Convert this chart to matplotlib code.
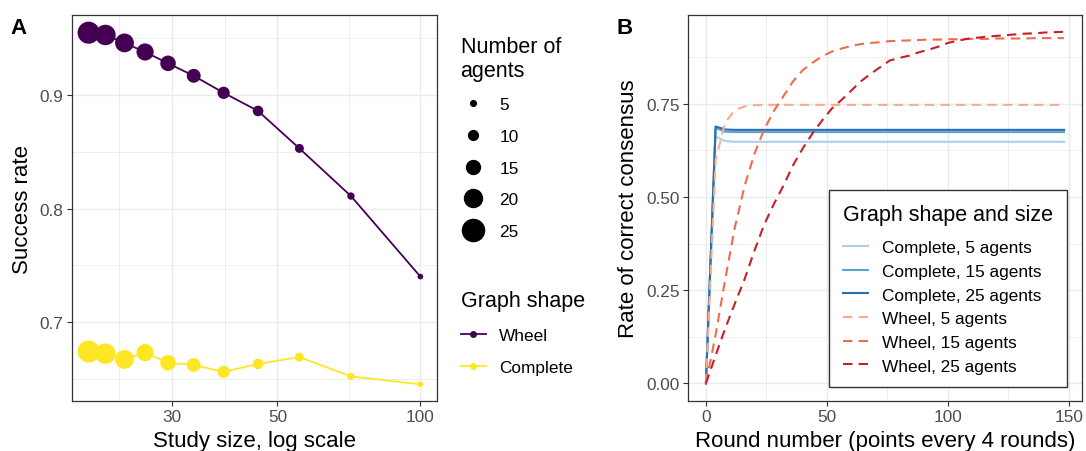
import matplotlib
matplotlib.use("Agg")
import matplotlib.pyplot as plt
from matplotlib.lines import Line2D
from matplotlib.ticker import NullFormatter

plt.rcParams['font.family'] = ['Liberation Sans', 'DejaVu Sans']

# panel A: success rate by study size
agents = [25, 23, 21, 19, 17, 15, 13, 11, 9, 7, 5]
study_size = [20, 21.7, 23.8, 26.3, 29.4, 33.3, 38.5, 45.5, 55.6, 71.4, 100]
wheel_success = [0.955, 0.953, 0.946, 0.938, 0.928, 0.917, 0.902, 0.886, 0.853, 0.811, 0.740]
complete_success = [0.674, 0.672, 0.667, 0.673, 0.664, 0.662, 0.656, 0.663, 0.669, 0.652, 0.645]
legend_agents = [5, 10, 15, 20, 25]

# panel B: rate of correct consensus over rounds
rounds = list(range(0, 149, 4))
complete_5 = [0, 0.662, 0.650] + [0.648] * 35
complete_15 = [0, 0.685, 0.675] + [0.674] * 35
complete_25 = [0, 0.689, 0.681] + [0.680] * 35
wheel_5 = [0, 0.60, 0.70, 0.733, 0.743, 0.746] + [0.747] * 32
wheel_15 = [0, 0.13, 0.28, 0.42, 0.53, 0.615, 0.68, 0.73, 0.77, 0.81, 0.84, 0.86, 0.877,
            0.89, 0.898, 0.905, 0.91, 0.913, 0.915, 0.918, 0.919, 0.92, 0.921, 0.922,
            0.922, 0.923, 0.923, 0.924, 0.924, 0.924, 0.925, 0.925, 0.925, 0.925, 0.926,
            0.926, 0.926, 0.926]
wheel_25 = [0, 0.075, 0.148, 0.215, 0.28, 0.355, 0.425, 0.48, 0.53, 0.585, 0.63, 0.67,
            0.705, 0.737, 0.76, 0.785, 0.81, 0.83, 0.848, 0.866, 0.873, 0.879, 0.888,
            0.895, 0.903, 0.913, 0.919, 0.924, 0.927, 0.93, 0.932, 0.934, 0.936, 0.938,
            0.939, 0.941, 0.942, 0.943]

series_b = [
    ("Complete, 5 agents", complete_5, '#aacfe6', '-'),
    ("Complete, 15 agents", complete_15, '#5fa3d4', '-'),
    ("Complete, 25 agents", complete_25, '#2a6db0', '-'),
    ("Wheel, 5 agents", wheel_5, '#fcaa8c', '--'),
    ("Wheel, 15 agents", wheel_15, '#f06b4b', '--'),
    ("Wheel, 25 agents", wheel_25, '#c81f27', '--'),
]

wheel_col = '#440154'
complete_col = '#FDE725'
grid_col = '#EBEBEB'
frame_col = '#333333'
tick_col = '#4D4D4D'

LAB = 16      # axis titles
TXT = 12.4    # ticks, legend entries
TTL = 15.5    # legend titles


def dot_size(n):
    # marker diameter in points, grows with number of agents
    return (5.7 + 0.82 * (n - 5)) * 0.72


def style_axes(ax):
    ax.grid(which='major', color=grid_col, lw=1.0)
    ax.grid(which='minor', color=grid_col, lw=0.6)
    ax.set_axisbelow(True)
    for s in ax.spines.values():
        s.set_color(frame_col)
        s.set_linewidth(0.9)
    ax.tick_params(which='major', length=3.5, width=0.8, color=frame_col,
                   labelcolor=tick_col, labelsize=TXT, pad=2.5)
    ax.tick_params(which='minor', length=0)


fig = plt.figure(figsize=(10.86, 4.52), dpi=100)
W, H = 1086, 452
axA = fig.add_axes([72 / W, 50 / H, 365 / W, 386 / H])
axB = fig.add_axes([688 / W, 50 / H, 394 / W, 386 / H])

# ---- panel A
axA.plot(study_size, wheel_success, color=wheel_col, lw=1.3, zorder=2)
axA.plot(study_size, complete_success, color=complete_col, lw=1.3, zorder=2)
sizes = [dot_size(a) ** 2 for a in agents]
axA.scatter(study_size, wheel_success, s=sizes, color=wheel_col, lw=0, zorder=3)
axA.scatter(study_size, complete_success, s=sizes, color=complete_col, lw=0, zorder=3)
axA.set_xscale('log')
axA.set_xlim(18.45, 108.4)
axA.set_ylim(0.6303, 0.9706)
axA.set_xticks([30, 50, 100])
axA.set_xticklabels(['30', '50', '100'])
axA.set_xticks([23.2, 38.7, 70.7], minor=True)
axA.xaxis.set_minor_formatter(NullFormatter())
axA.set_yticks([0.7, 0.8, 0.9])
axA.set_yticklabels(['0.7', '0.8', '0.9'])
axA.set_yticks([0.65, 0.75, 0.85, 0.95], minor=True)
style_axes(axA)
axA.set_xlabel("Study size, log scale", fontsize=LAB, labelpad=4)
axA.set_ylabel("Success rate", fontsize=LAB, labelpad=5)

size_handles = [Line2D([], [], marker='o', color='black', ls='', markersize=dot_size(a))
                for a in legend_agents]
leg1 = fig.legend(size_handles, [str(a) for a in legend_agents], title="Number of\nagents",
                  loc='upper left', bbox_to_anchor=(452 / W, 1 - 28 / H), frameon=False,
                  fontsize=TXT, title_fontsize=TTL, labelspacing=0.96, handlelength=1.45,
                  handletextpad=0.8, borderpad=0)
leg1._legend_box.align = "left"

shape_handles = [Line2D([], [], marker='o', color=wheel_col, lw=1.3, markersize=4),
                 Line2D([], [], marker='o', color=complete_col, lw=1.3, markersize=4)]
leg2 = fig.legend(shape_handles, ["Wheel", "Complete"], title="Graph shape",
                  loc='upper left', bbox_to_anchor=(452 / W, 1 - 282 / H), frameon=False,
                  fontsize=TXT, title_fontsize=TTL, labelspacing=1.0, handlelength=1.45,
                  handletextpad=0.8, borderpad=0)
leg2._legend_box.align = "left"

# ---- panel B
for label, vals, col, ls in series_b:
    if ls == '--':
        axB.plot(rounds, vals, color=col, lw=1.5, ls=ls, dashes=(4.5, 3), label=label)
    else:
        axB.plot(rounds, vals, color=col, lw=1.5, ls=ls, label=label)
axB.set_xlim(-7.4, 155.4)
axB.set_ylim(-0.047, 0.988)
axB.set_xticks([0, 50, 100, 150])
axB.set_xticks([25, 75, 125], minor=True)
axB.set_yticks([0, 0.25, 0.5, 0.75])
axB.set_yticklabels(['0.00', '0.25', '0.50', '0.75'])
axB.set_yticks([0.125, 0.375, 0.625, 0.875], minor=True)
style_axes(axB)
axB.set_xlabel("Round number (points every 4 rounds)", fontsize=LAB, labelpad=4)
axB.set_ylabel("Rate of correct consensus", fontsize=LAB, labelpad=5)

legB = axB.legend(title="Graph shape and size", loc='lower right',
                  bbox_to_anchor=(0.961, 0.0355), borderaxespad=0, fontsize=TXT,
                  title_fontsize=TTL, fancybox=False, edgecolor=frame_col,
                  framealpha=1, labelspacing=0.5, handlelength=1.45, handletextpad=0.8,
                  borderpad=0.8)
legB.get_frame().set_linewidth(1.0)
legB._legend_box.align = "left"
legB._legend_box.sep = 11  # more room under the title

fig.text(10 / W, 1 - 28 / H, "A", fontsize=16, fontweight='bold', va='center')
fig.text(617 / W, 1 - 28 / H, "B", fontsize=16, fontweight='bold', va='center')

fig.savefig("out.png", dpi=100)
